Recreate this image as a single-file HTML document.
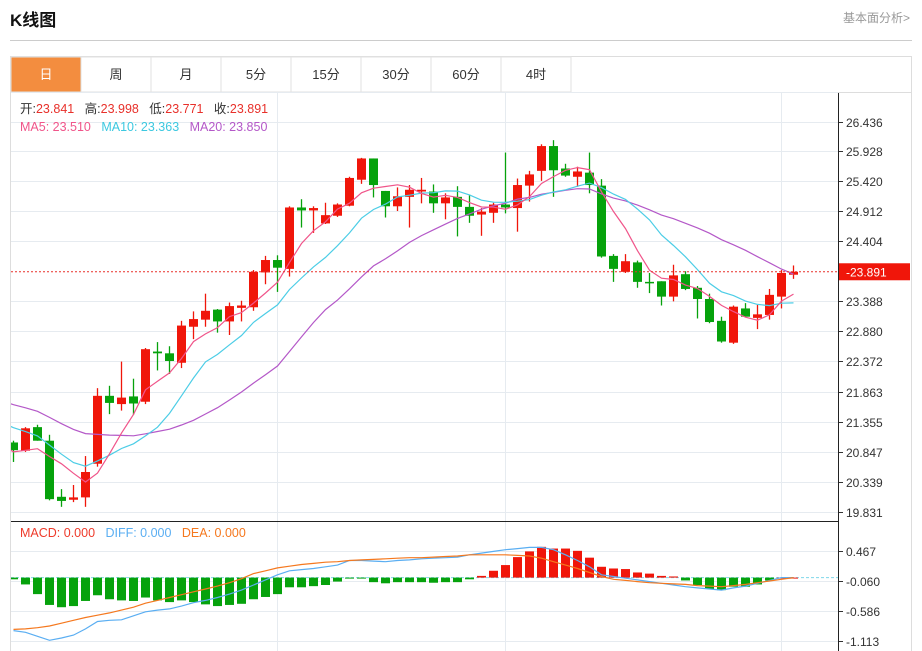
<!DOCTYPE html>
<html><head><meta charset="utf-8"><style>
body{margin:0;background:#fff;font-family:"Liberation Sans","Noto Sans CJK SC",sans-serif;}
#wrap{position:relative;width:922px;height:651px;overflow:hidden;}
svg text{font-family:"Liberation Sans","Noto Sans CJK SC",sans-serif;}
</style></head><body>
<div id="wrap">
<svg id="svg" width="922" height="651" xmlns="http://www.w3.org/2000/svg">
<defs><clipPath id="plot"><rect x="11" y="93" width="827" height="558"/></clipPath></defs>
<text x="10" y="26" font-size="17" font-weight="bold" fill="#111">K线图</text>
<text x="910" y="22" font-size="12" fill="#999" text-anchor="end">基本面分析&gt;</text>
<line x1="10" y1="40.5" x2="912" y2="40.5" stroke="#ccc"/>
<rect x="10.5" y="56.5" width="901" height="600" fill="none" stroke="#ddd"/>
<line x1="10" y1="92.5" x2="912" y2="92.5" stroke="#ddd"/>
<g id="tabs"></g>
<g id="grid"></g>
<g id="marks" clip-path="url(#plot)"></g>
<g id="axes"></g>
<g id="legend"></g>
</svg>
</div>
<script>
const categories = Array.from({length:66},(_,i)=>'d'+(i+1));
const opens  = [21.00,20.86,21.26,21.03,20.08,20.03,20.07,20.64,21.79,21.65,21.78,21.69,22.54,22.51,22.35,22.96,23.08,23.25,23.05,23.28,23.29,23.88,24.09,23.94,24.98,24.93,24.71,24.84,25.01,25.45,25.81,25.26,25.00,25.16,25.25,25.25,25.05,25.16,24.99,24.86,24.89,25.03,24.97,25.35,25.60,26.02,25.64,25.50,25.57,25.35,24.16,23.89,24.05,23.72,23.73,23.47,23.85,23.62,23.43,23.06,22.69,23.27,23.11,23.16,23.47,23.841];
const highs  = [21.03,21.26,21.30,21.13,20.21,20.28,20.77,21.92,21.96,22.37,22.08,22.60,22.70,22.63,23.06,23.22,23.52,23.26,23.37,23.40,23.92,24.16,24.17,25.00,25.12,25.00,25.06,25.05,25.50,25.82,25.81,25.26,25.32,25.36,25.48,25.37,25.22,25.34,25.20,24.97,25.06,25.91,25.47,25.60,26.05,26.12,25.72,25.67,25.91,25.46,24.19,24.19,24.08,23.87,23.73,24.01,23.90,23.65,23.52,23.13,23.32,23.36,23.33,23.60,23.92,23.998];
const lows   = [20.67,20.84,21.03,20.02,19.91,19.99,19.91,20.59,21.48,21.54,21.47,21.65,22.22,22.16,22.26,22.75,22.96,22.86,22.82,23.05,23.23,23.68,23.55,23.81,24.64,24.55,24.70,24.82,25.00,25.38,25.15,24.81,24.92,24.64,25.05,24.89,24.78,24.49,24.72,24.50,24.72,24.88,24.57,25.08,25.43,25.16,25.50,25.33,25.22,24.13,23.72,23.87,23.62,23.53,23.32,23.39,23.58,23.10,23.02,22.69,22.67,23.13,22.92,23.08,23.27,23.771];
const closes = [20.87,21.24,21.03,20.04,20.01,20.07,20.50,21.79,21.67,21.76,21.66,22.58,22.51,22.38,22.98,23.09,23.23,23.05,23.31,23.32,23.89,24.09,23.96,24.98,24.93,24.97,24.85,25.03,25.48,25.81,25.36,25.00,25.17,25.28,25.28,25.05,25.15,24.99,24.84,24.91,25.03,24.98,25.36,25.54,26.02,25.61,25.52,25.59,25.36,24.15,23.94,24.07,23.72,23.71,23.47,23.83,23.60,23.43,23.04,22.71,23.30,23.13,23.17,23.50,23.87,23.891];
const historyCloses = [22.3,22.3,22.2,22.1,22.15,22.0,21.95,22.05,21.9,21.85,21.8,21.9,21.75,21.6,21.55,21.5,21.1,20.9,20.7,20.63];
const diffValues = [-0.93,-0.96,-1.03,-1.10,-1.06,-1.01,-0.90,-0.77,-0.75,-0.74,-0.67,-0.60,-0.57,-0.55,-0.50,-0.44,-0.40,-0.35,-0.29,-0.22,-0.13,-0.04,0.05,0.12,0.14,0.16,0.19,0.22,0.30,0.30,0.29,0.28,0.30,0.31,0.33,0.34,0.35,0.36,0.40,0.43,0.46,0.49,0.51,0.53,0.53,0.49,0.40,0.30,0.19,0.05,0.02,-0.01,-0.04,-0.07,-0.10,-0.13,-0.16,-0.18,-0.20,-0.22,-0.18,-0.15,-0.10,-0.05,0.00,0.00];
const deaValues = [-0.91,-0.90,-0.88,-0.85,-0.80,-0.75,-0.70,-0.66,-0.62,-0.57,-0.52,-0.45,-0.40,-0.35,-0.30,-0.25,-0.20,-0.15,-0.09,-0.02,0.07,0.12,0.17,0.20,0.23,0.25,0.27,0.28,0.30,0.31,0.32,0.33,0.34,0.35,0.35,0.36,0.37,0.38,0.40,0.40,0.40,0.40,0.39,0.38,0.34,0.28,0.22,0.16,0.09,0.02,-0.03,-0.05,-0.07,-0.09,-0.10,-0.11,-0.12,-0.14,-0.15,-0.16,-0.14,-0.12,-0.09,-0.06,-0.03,0.00];
const macdValues = [-0.03,-0.12,-0.29,-0.48,-0.52,-0.50,-0.41,-0.31,-0.38,-0.40,-0.41,-0.35,-0.40,-0.43,-0.40,-0.43,-0.47,-0.50,-0.48,-0.46,-0.38,-0.34,-0.29,-0.17,-0.17,-0.15,-0.13,-0.07,-0.01,-0.01,-0.08,-0.10,-0.08,-0.08,-0.08,-0.09,-0.08,-0.08,-0.03,0.03,0.12,0.22,0.36,0.46,0.54,0.51,0.51,0.47,0.35,0.19,0.16,0.15,0.09,0.07,0.03,0.02,-0.05,-0.13,-0.20,-0.22,-0.16,-0.16,-0.12,-0.05,0.00,0.00];
const priceTicks = ['26.436','25.928','25.420','24.912','24.404','23.891','23.388','22.880','22.372','21.863','21.355','20.847','20.339','19.831'];
const macdTicks = ['0.467','-0.060','-0.586','-1.113'];
const tabLabels = ['日','周','月','5分','15分','30分','60分','4时'];
const lastPrice = 23.891;

const NS='http://www.w3.org/2000/svg';
const RED='#f0160a', GREEN='#06a20c';
function mk(tag,attrs,parent,text){const e=document.createElementNS(NS,tag);for(const k in attrs)e.setAttribute(k,attrs[k]);if(text!==undefined)e.textContent=text;parent.appendChild(e);return e;}
const xAt=i=>13.5+12*i;
const pTop=26.436,pBot=19.831,yTop=121.5,yBot=511.5;
const yP=p=>yTop+(pTop-p)*(yBot-yTop)/(pTop-pBot);
const mTop=0.467,mBot=-1.113,myTop=551,myBot=641;
const yM=v=>myTop+(mTop-v)*(myBot-myTop)/(mTop-mBot);

const tabs=document.getElementById('tabs');
tabLabels.forEach((t,i)=>{
  const g=mk('g',{},tabs);
  
  
  mk('rect',{x:11+70*i,y:57,width:70,height:35,fill:i===0?'#f38d3f':'#fff',stroke:'#e2e2e2'},g);
  mk('text',{x:11+70*i+35,y:79,'font-size':13,'text-anchor':'middle',fill:i===0?'#fff':'#333'},g,t);
});

const grid=document.getElementById('grid'), axes=document.getElementById('axes');
priceTicks.forEach(t=>{
  const y=Math.round(yP(parseFloat(t)))+0.5;
  if(t!=='23.891'){
    const l=mk('line',{x1:11,y1:y,x2:838,y2:y,stroke:'#e6ebf0'},grid);
    
    
    mk('line',{x1:839,y1:y,x2:843,y2:y,stroke:'#333'},axes);
    const tx=mk('text',{x:846,y:y+4.5,'font-size':12,fill:'#333'},axes,t);
    
    
  }
});
mk('line',{x1:11,y1:92.5,x2:838,y2:92.5,stroke:'#e6ebf0'},grid);
[277,505,781].forEach(x=>{mk('line',{x1:x+0.5,y1:93,x2:x+0.5,y2:651,stroke:'#e6ebf0'},grid);});
macdTicks.forEach(t=>{
  const v=parseFloat(t); const y=Math.round(yM(v))+0.5;
  mk('line',{x1:11,y1:y,x2:838,y2:y,stroke:'#e6ebf0'},grid);
  mk('line',{x1:839,y1:y,x2:843,y2:y,stroke:'#333'},axes);
  const tx=mk('text',{x:846,y:y+4.5,'font-size':12,fill:'#333'},axes,t);
  
  
});
const zl=mk('line',{x1:11,y1:yM(0),x2:838,y2:yM(0),stroke:'#7fd8ea','stroke-dasharray':'3,2'},grid);



const marks=document.getElementById('marks');
// MACD bars
macdValues.forEach((v,i)=>{
  const y0=yM(0),y1=yM(v);
  const r=mk('rect',{x:xAt(i)-4.5,y:Math.min(y0,y1),width:9,height:Math.max(1,Math.abs(y1-y0)),fill:v>=0?RED:GREEN},marks);
  
  
});
function poly(vals,yf,color,name,offset){
  const pts=vals.map((v,i)=>v==null?null:xAt(i+offset).toFixed(1)+','+yf(v).toFixed(1)).filter(Boolean).join(' ');
  const p=mk('polyline',{points:pts,fill:'none',stroke:color,'stroke-width':1.2},marks);
  
  
}
poly(diffValues,yM,'#5aaef2','diff-line',0);
poly(deaValues,yM,'#f5781e','dea-line',0);

// candles
closes.forEach((c,i)=>{
  const o=opens[i],up=c>=o,col=up?RED:GREEN,x=xAt(i);
  const g=mk('g',{},marks);
  
  
  mk('line',{x1:x,y1:yP(highs[i]),x2:x,y2:yP(lows[i]),stroke:col,'stroke-width':1.3},g);
  const yt=yP(Math.max(o,c)),yb=yP(Math.min(o,c));
  mk('rect',{x:x-4.5,y:yt,width:9,height:Math.max(1.5,yb-yt),fill:col},g);
});
// moving averages
const all=historyCloses.concat(closes);
function ma(n){const out=[];for(let k=historyCloses.length-1;k<all.length;k++){if(k-n+1<0){out.push(null);continue;}let s=0;for(let j=k-n+1;j<=k;j++)s+=all[j];out.push(s/n);}return out;}
poly(ma(20),yP,'#b458c8','ma20-line',-1);
poly(ma(10),yP,'#4ccde6','ma10-line',-1);
poly(ma(5),yP,'#f0558a','ma5-line',-1);

// last price line and label
const ly=yP(lastPrice);
const pl=mk('line',{x1:11,y1:ly,x2:838,y2:ly,stroke:'#e8302a','stroke-dasharray':'2,2'},axes);


const lb=mk('rect',{x:839,y:ly-8.5,width:71,height:17,fill:RED},axes);


mk('text',{x:846,y:ly+4.5,'font-size':12,fill:'#fff'},axes,'-'+lastPrice.toFixed(3));

mk('line',{x1:838.5,y1:93,x2:838.5,y2:651,stroke:'#222'},axes);
mk('line',{x1:11,y1:521.5,x2:838,y2:521.5,stroke:'#222'},axes);

// legends
const lg=document.getElementById('legend');
function legend(items,y,name){
  const t=mk('text',{x:20,y:y,'font-size':12.5},lg);
  
  
  items.forEach(([s,c])=>{mk('tspan',{fill:c},t,s);});
}
legend([['开:','#333'],['23.841   ','#e8302a'],['高:','#333'],['23.998   ','#e8302a'],['低:','#333'],['23.771   ','#e8302a'],['收:','#333'],['23.891','#e8302a']],113,'ohlc-legend');
legend([['MA5: 23.510   ','#f0558a'],['MA10: 23.363   ','#3cc8e0'],['MA20: 23.850','#b458c8']],131,'ma-legend');
legend([['MACD: 0.000   ','#ee3a2a'],['DIFF: 0.000   ','#5aaef2'],['DEA: 0.000','#f5781e']],537,'macd-legend');
document.querySelectorAll('#legend tspan').forEach(t=>t.setAttribute('xml:space','preserve'));
document.querySelectorAll('#legend text').forEach(t=>t.setAttribute('style','white-space:pre'));
</script>
</body></html>
